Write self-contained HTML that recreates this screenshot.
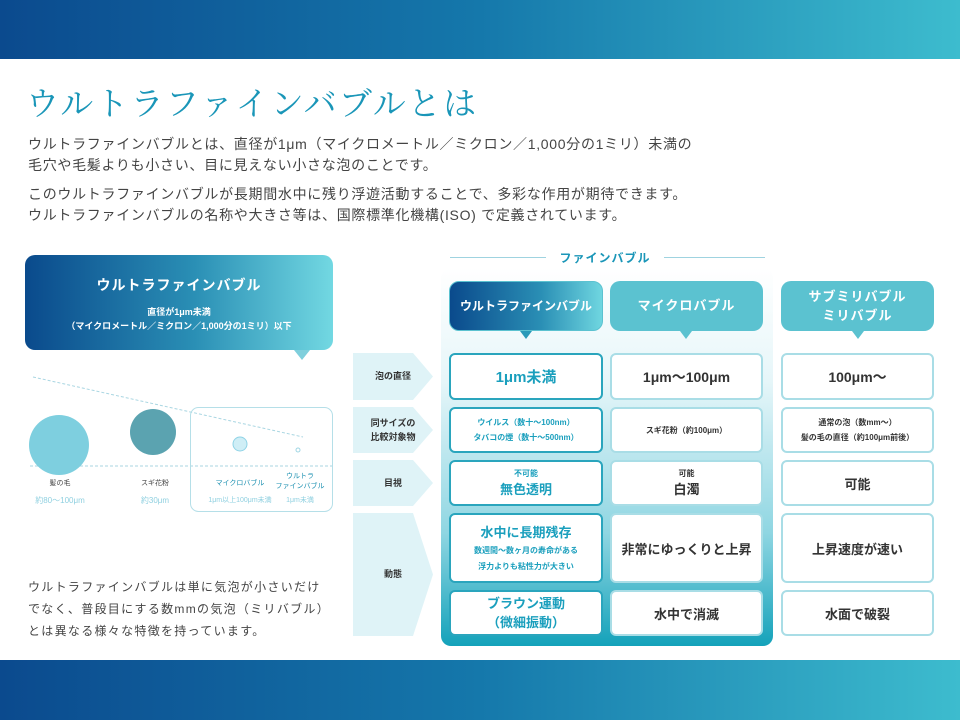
<!DOCTYPE html>
<html><head><meta charset="utf-8"><style>
*{margin:0;padding:0;box-sizing:border-box}
body{width:960px;height:720px;position:relative;background:#fff;font-family:"Liberation Sans","Noto Sans CJK JP",sans-serif;overflow:hidden;color:#333}
.a{position:absolute}
.band{position:absolute;left:0;width:960px;height:60px;background:linear-gradient(90deg,#0b4a8e 0%,#1578ab 50%,#3dbcce 100%)}
.p{font-size:14px;color:#444;white-space:nowrap;letter-spacing:0.7px}
.cell{position:absolute;background:#fff;border:2px solid #a9dde6;border-radius:6px;display:flex;flex-direction:column;align-items:center;justify-content:center;text-align:center;color:#333;font-weight:bold}
.c1{border-color:#2aa5bd;color:#1a9fbd}
.lab{position:absolute;left:353px;width:80px;background:#dff3f7;color:#333;font-size:9px;font-weight:bold;display:flex;align-items:center;justify-content:center;text-align:center;line-height:1.6;clip-path:polygon(0 0,75% 0,100% 50%,75% 100%,0 100%)}
.tab{position:absolute;top:281px;height:50px;border-radius:10px;color:#fff;font-weight:bold;font-size:13px;display:flex;align-items:center;justify-content:center;text-align:center;line-height:1.5;letter-spacing:1px;background:#5bc2d0;white-space:nowrap}
.tail{position:absolute;width:0;height:0;border-left:6px solid transparent;border-right:6px solid transparent;border-top:8px solid #5bc2d0}
</style></head><body>
<div class="band" style="top:0;height:59px"></div>
<div class="band" style="top:660px"></div>

<div class="a" style="left:26px;top:78px;font-family:'Noto Serif CJK JP',serif;font-size:33px;color:#1a96b8;letter-spacing:2.2px;white-space:nowrap">ウルトラファインバブルとは</div>
<div class="a p" style="left:28px;top:134px">ウルトラファインバブルとは、直径が1μm（マイクロメートル／ミクロン／1,000分の1ミリ）未満の</div>
<div class="a p" style="left:28px;top:155px">毛穴や毛髪よりも小さい、目に見えない小さな泡のことです。</div>
<div class="a p" style="left:28px;top:184px">このウルトラファインバブルが長期間水中に残り浮遊活動することで、多彩な作用が期待できます。</div>
<div class="a p" style="left:28px;top:205px">ウルトラファインバブルの名称や大きさ等は、国際標準化機構(ISO) で定義されています。</div>

<div class="a" style="left:25px;top:255px;width:308px;height:95px;border-radius:10px;background:linear-gradient(90deg,#0a4a8c,#2a8fb5 55%,#72d8e2);color:#fff;text-align:center;font-weight:bold">
<div style="font-size:14px;margin-top:20px;letter-spacing:1px">ウルトラファインバブル</div>
<div style="font-size:9px;margin-top:10px;line-height:1.6">直径が1μm未満<br>（マイクロメートル／ミクロン／1,000分の1ミリ）以下</div></div>
<div class="a" style="left:294px;top:350px;border-left:8px solid transparent;border-right:8px solid transparent;border-top:10px solid #7fcfdc;width:0;height:0"></div>
<svg class="a" style="left:0;top:360px" width="340" height="160">
<line x1="33" y1="17" x2="303" y2="77" stroke="#a9d6e2" stroke-dasharray="3,2"/>
<line x1="30" y1="106" x2="333" y2="106" stroke="#a9d6e2" stroke-dasharray="3,2"/>
<rect x="190.5" y="47.5" width="142" height="104" rx="8" fill="none" stroke="#b5dfe8"/>
<circle cx="59" cy="85" r="30" fill="#7ecfdf"/>
<circle cx="153" cy="72" r="23" fill="#5ba3b0"/>
<circle cx="240" cy="84" r="7" fill="#cfeef6" stroke="#8fd3e6"/>
<circle cx="298" cy="90" r="2" fill="none" stroke="#9fd6e4"/>
</svg>
<div class="a" style="left:30px;top:478px;width:60px;text-align:center;font-size:7px;color:#444">髪の毛</div>
<div class="a" style="left:20px;top:495px;width:80px;text-align:center;font-size:8px;color:#8fd0e0">約80～100μm</div>
<div class="a" style="left:125px;top:478px;width:60px;text-align:center;font-size:7px;color:#444">スギ花粉</div>
<div class="a" style="left:125px;top:495px;width:60px;text-align:center;font-size:8px;color:#8fd0e0">約30μm</div>
<div class="a" style="left:200px;top:478px;width:80px;text-align:center;font-size:7px;color:#1a8fb0">マイクロバブル</div>
<div class="a" style="left:198px;top:495px;width:84px;text-align:center;font-size:7px;color:#8fd0e0">1μm以上100μm未満</div>
<div class="a" style="left:272px;top:472px;width:56px;text-align:center;font-size:7px;color:#1a8fb0;line-height:1.4">ウルトラ<br>ファインバブル</div>
<div class="a" style="left:272px;top:495px;width:56px;text-align:center;font-size:7px;color:#8fd0e0">1μm未満</div>

<div class="a" style="left:28px;top:576px;font-size:12px;line-height:22px;color:#444;letter-spacing:1.3px">ウルトラファインバブルは単に気泡が小さいだけ<br>でなく、普段目にする数mmの気泡（ミリバブル）<br>とは異なる様々な特徴を持っています。</div>

<div class="a" style="left:441px;top:268px;width:332px;height:378px;border-radius:10px;background:linear-gradient(180deg,#fff 0%,#e6f6f9 30%,#8fd6e2 70%,#14a2ba 100%)"></div>
<div class="a" style="left:450px;top:257px;width:315px;height:1px;background:#9fd3e0"></div>
<div class="a" style="left:546px;top:249px;width:118px;height:18px;background:#fff;color:#1a96b8;font-size:12px;font-weight:bold;text-align:center;letter-spacing:1px">ファインバブル</div>

<div class="tab" style="left:449px;width:154px;background:linear-gradient(90deg,#0a4a8c,#2a8fb5 60%,#6fd6e0);border:1px solid #5bc2d0;letter-spacing:0;font-size:12px">ウルトラファインバブル</div>
<div class="tail" style="left:520px;top:331px;border-top-color:#2a9ab8"></div>
<div class="tab" style="left:610px;width:153px">マイクロバブル</div>
<div class="tail" style="left:680px;top:331px"></div>
<div class="tab" style="left:781px;width:153px">サブミリバブル<br>ミリバブル</div>
<div class="tail" style="left:852px;top:331px"></div>

<div class="lab" style="top:353px;height:47px">泡の直径</div>
<div class="lab" style="top:407px;height:46px">同サイズの<br>比較対象物</div>
<div class="lab" style="top:460px;height:46px">目視</div>
<div class="lab" style="top:513px;height:123px">動態</div>

<div class="cell c1" style="left:449px;top:353px;width:154px;height:47px;font-size:15px">1μm未満</div>
<div class="cell" style="left:610px;top:353px;width:153px;height:47px;font-size:14px">1μm～100μm</div>
<div class="cell" style="left:781px;top:353px;width:153px;height:47px;font-size:14px">100μm～</div>

<div class="cell c1" style="left:449px;top:407px;width:154px;height:46px;font-size:8px;line-height:1.9">ウイルス（数十～100nm）<br>タバコの煙（数十～500nm）</div>
<div class="cell" style="left:610px;top:407px;width:153px;height:46px;font-size:8px">スギ花粉（約100μm）</div>
<div class="cell" style="left:781px;top:407px;width:153px;height:46px;font-size:8px;line-height:1.9">通常の泡（数mm～）<br>髪の毛の直径（約100μm前後）</div>

<div class="cell c1" style="left:449px;top:460px;width:154px;height:46px"><span style="font-size:8px">不可能</span><span style="font-size:13px">無色透明</span></div>
<div class="cell" style="left:610px;top:460px;width:153px;height:46px"><span style="font-size:8px">可能</span><span style="font-size:13px">白濁</span></div>
<div class="cell" style="left:781px;top:460px;width:153px;height:46px;font-size:13px">可能</div>

<div class="cell c1" style="left:449px;top:513px;width:154px;height:70px"><span style="font-size:13px">水中に長期残存</span><span style="font-size:8px;line-height:1.9;margin-top:2px">数週間～数ヶ月の寿命がある<br>浮力よりも粘性力が大きい</span></div>
<div class="cell" style="left:610px;top:513px;width:153px;height:70px;font-size:13px">非常にゆっくりと上昇</div>
<div class="cell" style="left:781px;top:513px;width:153px;height:70px;font-size:13px">上昇速度が速い</div>

<div class="cell c1" style="left:449px;top:590px;width:154px;height:46px;font-size:13px;line-height:1.5">ブラウン運動<br>（微細振動）</div>
<div class="cell" style="left:610px;top:590px;width:153px;height:46px;font-size:13px">水中で消滅</div>
<div class="cell" style="left:781px;top:590px;width:153px;height:46px;font-size:13px">水面で破裂</div>
</body></html>
